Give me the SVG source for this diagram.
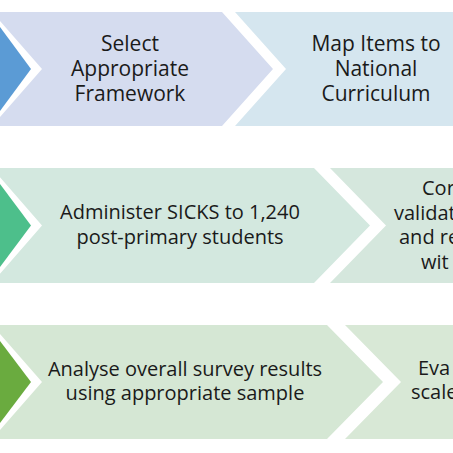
<svg xmlns="http://www.w3.org/2000/svg" width="453" height="453" viewBox="0 0 453 453">
<style>
  text { font-family: "Open Sans", "Liberation Sans", sans-serif; fill: #1a1a1a; }
  .t1 { font-size: 21px; text-anchor: middle; }
  .t2 { font-size: 20px; text-anchor: middle; }
  .ts { font-size: 20px; text-anchor: start; }
</style>
<rect x="0" y="0" width="453" height="453" fill="#ffffff"/>

<g id="row1-step1">
  <polygon points="0,27 31,69 0,111" fill="#5b9bd5"/>
</g>
<g id="row1-step2">
  <polygon points="-8,12 222,12 273,69 222,126 -8,126 42,69" fill="#d5dcef"/>
  <text class="t1" x="130" y="51">Select</text>
  <text class="t1" x="130" y="76">Appropriate</text>
  <text class="t1" x="130" y="101">Framework</text>
</g>
<g id="row1-step3">
  <polygon points="235,12 460,12 460,126 235,126 286,69" fill="#d5e6ef"/>
  <text class="t1" x="376" y="51">Map Items to</text>
  <text class="t1" x="376" y="76">National</text>
  <text class="t1" x="376" y="101">Curriculum</text>
</g>

<g id="row2-step1">
  <polygon points="0,184 31,225.5 0,267" fill="#4dbf8b"/>
</g>
<g id="row2-step2">
  <polygon points="-8,168 314,168 370,225.5 314,283 -8,283 42,225.5" fill="#d3e8df"/>
  <text class="t2" x="180" y="219">Administer SICKS to 1,240</text>
  <text class="t2" x="180" y="244">post-primary students</text>
</g>
<g id="row2-step3">
  <polygon points="330,168 460,168 460,283 330,283 386,225.5" fill="#d5e7dd"/>
  <text class="ts" x="422" y="195">Cor</text>
  <text class="ts" x="394" y="220">validat</text>
  <text class="ts" x="399" y="244">and re</text>
  <text class="ts" x="421" y="269">wit</text>
</g>

<g id="row3-step1">
  <polygon points="0,341 31,382 0,423" fill="#6aab3f"/>
</g>
<g id="row3-step2">
  <polygon points="-8,325 327,325 383,382 327,439 -8,439 42,382" fill="#d5e7d4"/>
  <text class="t2" x="185" y="376">Analyse overall survey results</text>
  <text class="t2" x="185" y="400">using appropriate sample</text>
</g>
<g id="row3-step3">
  <polygon points="345,325 460,325 460,439 345,439 401,382" fill="#d8e8d6"/>
  <text class="ts" x="418" y="375">Eva</text>
  <text class="ts" x="411" y="399">scale</text>
</g>
</svg>
